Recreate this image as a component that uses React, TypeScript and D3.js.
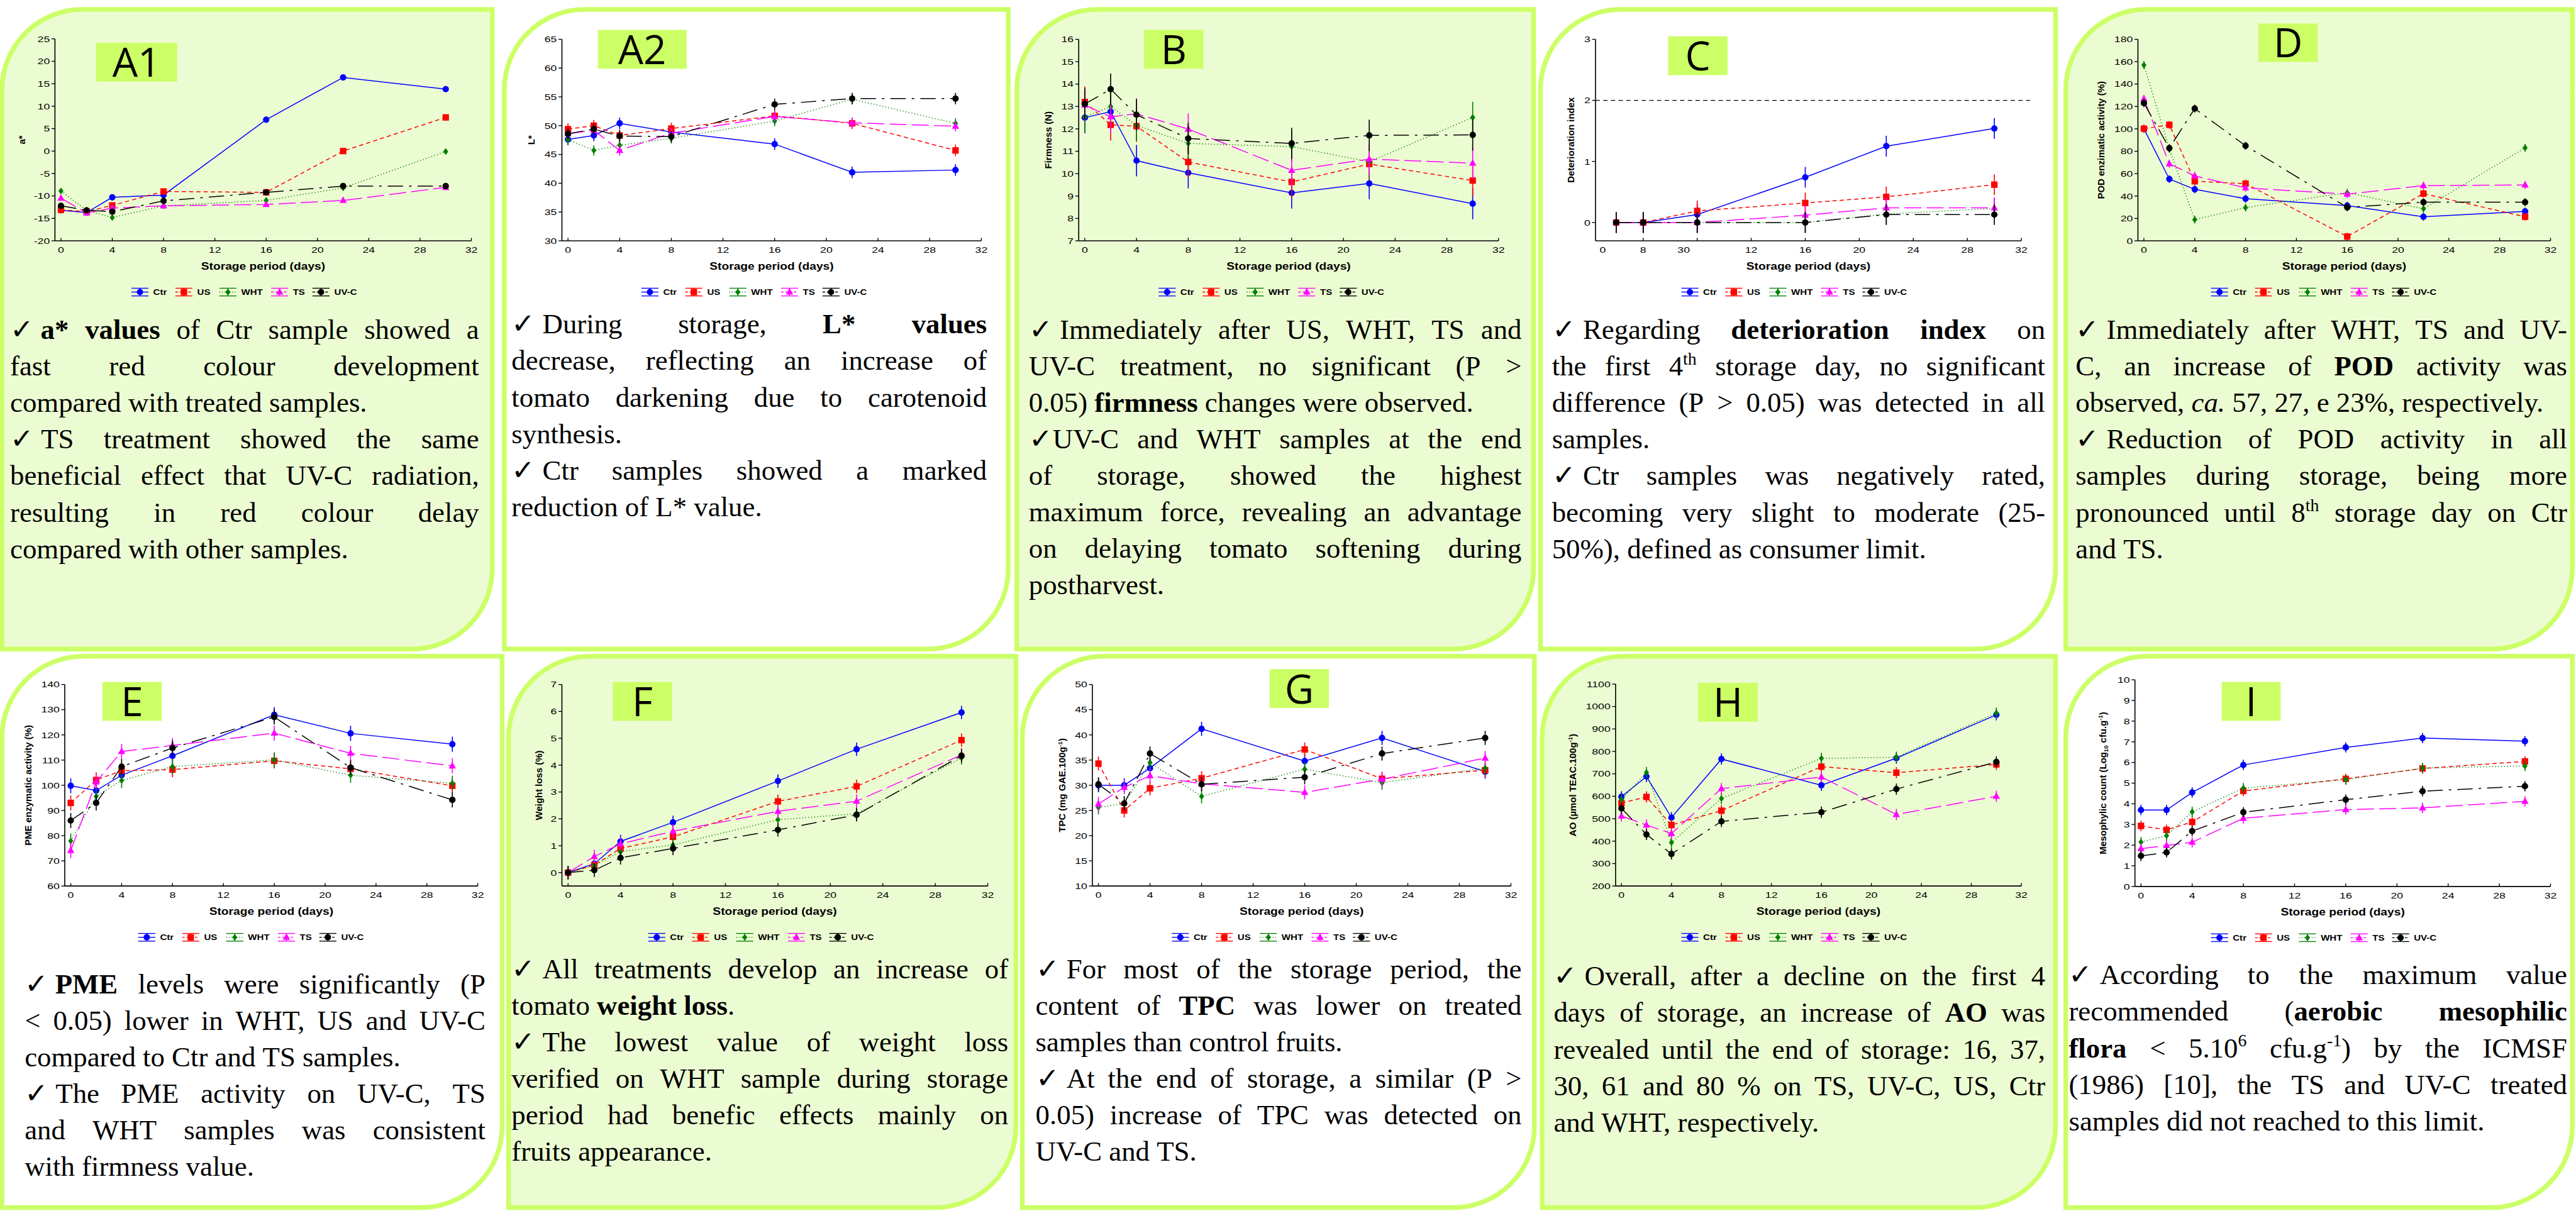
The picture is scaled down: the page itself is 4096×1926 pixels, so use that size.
import React from 'react';
import * as d3 from 'd3';

const VW = 6030, VH = 2836;

const SERIES = ['Ctr', 'US', 'WHT', 'TS', 'UV-C'];
const COLORS = ['#0000FF', '#FF0000', '#008000', '#FF00FF', '#000000'];
const DASHES = ['', '10,7', '2,5', '40,12', '36,14,6,14'];
const MARKERS = ['circle', 'square', 'diamond', 'triangle', 'circle'];

const DAYS = [0, 2, 4, 8, 16, 22, 30];
const DAYS_C = [2, 4, 8, 16, 22, 30];
const X_TICKS = [0, 4, 8, 12, 16, 20, 24, 28, 32];
const C_X_TICK_MARKS = [4, 8, 12, 16, 20, 24, 28, 32];
const C_X_TICK_POS = [1, 4, 7, 12, 16, 20, 24, 28, 32];
const C_X_TICK_LABELS = ['0', '8', '30', '12', '16', '20', '24', '28', '32'];

// A1 – a*
const A1_VALUES = [
  [-13.2, -13.7, -10.3, -9.8, 7.0, 16.4, 13.8],
  [-13.1, -13.5, -12.1, -9.0, -9.2, 0.0, 7.5],
  [-8.9, -13.2, -14.8, -12.2, -11.0, -8.2, -0.1],
  [-10.5, -13.8, -12.7, -12.2, -11.9, -11.0, -8.1],
  [-12.2, -13.2, -13.5, -11.1, -9.2, -7.8, -7.8],
];
const A1_ERR = [0.6, 0.5, 0.6, 0.5, 0.5];
const A1_Y_TICKS = [-20, -15, -10, -5, 0, 5, 10, 15, 20, 25];

// A2 – L*
const A2_VALUES = [
  [47.6, 48.3, 50.4, 48.9, 46.8, 41.9, 42.3],
  [49.4, 50.0, 48.3, 49.5, 51.7, 50.4, 45.7],
  [47.6, 45.7, 46.6, 47.8, 50.8, 54.6, 50.4],
  [48.6, 49.2, 45.7, 48.7, 51.6, 50.5, 49.9],
  [48.6, 49.4, 48.2, 48.1, 53.7, 54.7, 54.7],
];
const A2_ERR = [1.0, 1.0, 0.9, 0.9, 1.0];
const A2_Y_TICKS = [30, 35, 40, 45, 50, 55, 60, 65];

// B – Firmness
const B_VALUES = [
  [12.5, 12.77, 10.58, 10.04, 9.14, 9.56, 8.66],
  [13.2, 12.18, 12.12, 10.52, 9.63, 10.43, 9.69],
  [12.53, 13.0, 12.16, 11.35, 11.21, 10.53, 12.51],
  [13.06, 12.54, 12.67, 11.99, 10.15, 10.65, 10.47],
  [13.11, 13.77, 12.63, 11.57, 11.35, 11.71, 11.73],
];
const B_ERR = [0.7, 0.7, 0.7, 0.7, 0.7];
const B_Y_TICKS = [7, 8, 9, 10, 11, 12, 13, 14, 15, 16];

// C – Deterioration index
const C_VALUES = [
  [0, 0, 0.13, 0.74, 1.25, 1.54],
  [0, 0, 0.19, 0.32, 0.42, 0.62],
  [0, 0, 0, 0, 0.14, 0.23],
  [0, 0, 0, 0.12, 0.24, 0.24],
  [0, 0, 0, 0, 0.13, 0.13],
];
const C_ERR = [0.17, 0.17, 0.17, 0.17, 0.17];
const C_Y_TICKS = [0, 1, 2, 3];
const C_LIMIT = 2;

// D – POD
const D_VALUES = [
  [100, 55.2, 46.0, 37.6, 31.4, 21.5, 26.3],
  [100.2, 103.6, 53.2, 51.1, 3.8, 42.2, 21.5],
  [157, 82.1, 18.9, 29.7, 43.0, 28.6, 83.1],
  [126.8, 68.8, 58.0, 47.3, 41.7, 49.3, 49.9],
  [123, 82.8, 118.1, 84.9, 29.9, 34.5, 34.5],
];
const D_ERR = [3.5, 3.5, 3.5, 3.5, 3.5];
const D_Y_TICKS = [0, 20, 40, 60, 80, 100, 120, 140, 160, 180];

// E – PME
const E_VALUES = [
  [99.8, 97.9, 104.0, 111.7, 128.0, 120.6, 116.3],
  [93.0, 102.1, 105.8, 106.2, 109.7, 106.5, 99.8],
  [77.9, 95.6, 101.9, 107.4, 110.1, 104.0, 100.8],
  [74.1, 101.3, 113.4, 115.8, 120.7, 112.7, 107.7],
  [86.0, 93.0, 107.4, 114.8, 127.1, 107.0, 94.2],
];
const E_ERR = [3, 3, 3, 3, 3];
const E_Y_TICKS = [60, 70, 80, 90, 100, 110, 120, 130, 140];

// F – Weight loss
const F_VALUES = [
  [0, 0.33, 1.16, 1.87, 3.41, 4.59, 5.96],
  [0, 0.28, 0.90, 1.33, 2.65, 3.21, 4.93],
  [0, 0.26, 0.78, 1.03, 1.97, 2.19, 4.27],
  [0, 0.60, 1.07, 1.54, 2.28, 2.66, 4.38],
  [0, 0.09, 0.55, 0.90, 1.59, 2.15, 4.35],
];
const F_ERR = [0.25, 0.25, 0.25, 0.25, 0.25];
const F_Y_TICKS = [0, 1, 2, 3, 4, 5, 6, 7];

// G – TPC
const G_VALUES = [
  [30.0, 30.0, 33.4, 41.2, 34.8, 39.4, 32.7],
  [34.3, 25.0, 29.4, 31.4, 37.1, 31.3, 33.0],
  [25.6, 26.4, 34.5, 27.8, 33.2, 30.5, 33.4],
  [26.3, 29.6, 31.9, 30.3, 28.6, 31.2, 35.4],
  [30.2, 26.4, 36.3, 30.2, 31.6, 36.3, 39.4],
];
const G_ERR = [1.4, 1.4, 1.4, 1.4, 1.4];
const G_Y_TICKS = [10, 15, 20, 25, 30, 35, 40, 45, 50];

// H – AO
const H_VALUES = [
  [598, 688, 505, 766, 649, 770, 963],
  [570, 597, 472, 536, 732, 705, 742],
  [585, 706, 394, 590, 769, 774, 971],
  [512, 472, 434, 634, 686, 519, 600],
  [546, 430, 343, 488, 529, 632, 753],
];
const H_ERR = [25, 25, 25, 25, 25];
const H_Y_TICKS = [200, 300, 400, 500, 600, 700, 800, 900, 1000, 1100];

// I – Mesophilic count
const I_VALUES = [
  [3.70, 3.70, 4.55, 5.88, 6.73, 7.18, 7.03],
  [2.93, 2.74, 3.12, 4.62, 5.21, 5.71, 6.05],
  [2.15, 2.46, 3.61, 4.76, 5.17, 5.73, 5.83],
  [1.83, 1.98, 2.14, 3.30, 3.72, 3.80, 4.12],
  [1.48, 1.65, 2.68, 3.59, 4.20, 4.61, 4.85],
];
const I_ERR = [0.25, 0.25, 0.25, 0.25, 0.25];
const I_Y_TICKS = [0, 1, 2, 3, 4, 5, 6, 7, 8, 9, 10];

const X_TITLE = 'Storage period (days)';

// Paragraph texts (~bold~, _italic_, ^sup^)
const TEXT_A1 = [
  ['✓  ~a* values~ of Ctr sample showed a', 'fast red colour development', 'compared with treated samples.'],
  ['✓ TS treatment showed the same', 'beneficial effect that UV-C radiation,', 'resulting in red colour delay', 'compared with other samples.'],
];
const TEXT_A2 = [
  ['✓ During storage, ~L* values~', 'decrease, reflecting an increase of', 'tomato darkening due to carotenoid', 'synthesis.'],
  ['✓ Ctr samples showed a marked', 'reduction of L* value.'],
];
const TEXT_B = [
  ['✓ Immediately after US, WHT, TS and', 'UV-C treatment, no significant (P >', '0.05) ~firmness~ changes were observed.'],
  ['✓UV-C and WHT samples at the end', 'of storage, showed the highest', 'maximum force, revealing an advantage', 'on delaying tomato softening during', 'postharvest.'],
];
const TEXT_C = [
  ['✓ Regarding ~deterioration index~ on', 'the first 4^th^ storage day, no significant', 'difference (P > 0.05) was detected in all', 'samples.'],
  ['✓ Ctr samples was negatively rated,', 'becoming very slight to moderate (25-', '50%), defined as consumer limit.'],
];
const TEXT_D = [
  ['✓ Immediately after WHT, TS and UV-', 'C, an increase of ~POD~ activity was', 'observed, _ca._ 57, 27, e 23%, respectively.'],
  ['✓ Reduction of POD activity in all', 'samples during storage, being more', 'pronounced until 8^th^ storage day on Ctr', 'and TS.'],
];
const TEXT_E = [
  ['✓ ~PME~ levels were significantly (P', '< 0.05) lower in WHT, US and UV-C', 'compared to Ctr and TS samples.'],
  ['✓ The PME activity on UV-C, TS', 'and WHT samples was consistent', 'with firmness value.'],
];
const TEXT_F = [
  ['✓ All treatments develop an increase of', 'tomato ~weight loss~.'],
  ['✓ The lowest value of weight loss', 'verified on WHT sample during storage', 'period had benefic effects mainly on', 'fruits appearance.'],
];
const TEXT_G = [
  ['✓ For most of the storage period, the', 'content of ~TPC~ was lower on treated', 'samples than control fruits.'],
  ['✓ At the end of storage, a similar (P >', '0.05) increase of TPC was detected on', 'UV-C and TS.'],
];
const TEXT_H = [
  ['✓ Overall, after a decline on the first 4', 'days of storage, an increase of ~AO~ was', 'revealed until the end of storage: 16, 37,', '30, 61 and 80 % on TS, UV-C, US, Ctr', 'and WHT, respectively.'],
];
const TEXT_I = [
  ['✓ According to the maximum value', 'recommended (~aerobic mesophilic~', '~flora~ < 5.10^6^ cfu.g^-1^) by the ICMSF', '(1986) [10], the TS and UV-C treated', 'samples did not reached to this limit.'],
];

type Run = { t: string; b?: boolean; i?: boolean; s?: boolean; sub?: boolean };

const TOP = { top: 92, bottom: 564 };
const BOT = { top: 1603, bottom: 2075 };

const CHARTS = [
  { id: 'A1', values: A1_VALUES, err: A1_ERR, days: DAYS, yDomain: [-20, 25], yTicks: A1_Y_TICKS, left: 128, right: 1103, top: 91, bottom: 564, xMin: -0.47, yTitleX: 50, yTitle: [{ t: 'a*' }], legendX: 307, label: [224, 100, 414, 191], text: TEXT_A1, tx: [23, 1121], tb: 794 },
  { id: 'A2', values: A2_VALUES, err: A2_ERR, days: DAYS, yDomain: [30, 65], yTicks: A2_Y_TICKS, left: 1315, right: 2297, ...TOP, xMin: -0.47, yTitleX: 1243, yTitle: [{ t: 'L*' }], legendX: 1501, label: [1399, 70, 1607, 161], text: TEXT_A2, tx: [1197, 2310], tb: 781 },
  { id: 'B', values: B_VALUES, err: B_ERR, days: DAYS, yDomain: [7, 16], yTicks: B_Y_TICKS, left: 2525, right: 3508, ...TOP, xMin: -0.47, yTitleX: 2454, yTitle: [{ t: 'Firmness (N)' }], legendX: 2712, label: [2678, 70, 2817, 161], text: TEXT_B, tx: [2408, 3562], tb: 793 },
  { id: 'C', values: C_VALUES, err: C_ERR, days: DAYS_C, yDomain: [-0.3, 3], yTicks: C_Y_TICKS, left: 3735, right: 4732, ...TOP, xMin: 0.47, yTitleX: 3677, yTitle: [{ t: 'Deterioration index' }], legendX: 3936, label: [3905, 85, 4044, 176], text: TEXT_C, tx: [3633, 4788], tb: 794, limit: C_LIMIT },
  { id: 'D', values: D_VALUES, err: D_ERR, days: DAYS, yDomain: [0, 180], yTicks: D_Y_TICKS, left: 5005, right: 5971, ...TOP, xMin: -0.47, yTitleX: 4919, yTitle: [{ t: 'POD enzimatic activity (%)' }], legendX: 5176, label: [5287, 55, 5426, 145], text: TEXT_D, tx: [4859, 6010], tb: 794 },
  { id: 'E', values: E_VALUES, err: E_ERR, days: DAYS, yDomain: [60, 140], yTicks: E_Y_TICKS, left: 151, right: 1118, ...BOT, xMin: -0.47, yTitleX: 65, yTitle: [{ t: 'PME enzymatic activity (%)' }], legendX: 323, label: [239, 1597, 378, 1688], text: TEXT_E, tx: [57, 1136], tb: 2326 },
  { id: 'F', values: F_VALUES, err: F_ERR, days: DAYS, yDomain: [-0.5, 7], yTicks: F_Y_TICKS, left: 1315, right: 2312, ...BOT, xMin: -0.47, yTitleX: 1260, yTitle: [{ t: 'Weight loss (%)' }], legendX: 1517, label: [1434, 1597, 1573, 1688], text: TEXT_F, tx: [1197, 2360], tb: 2291 },
  { id: 'G', values: G_VALUES, err: G_ERR, days: DAYS, yDomain: [10, 50], yTicks: G_Y_TICKS, left: 2557, right: 3537, ...BOT, xMin: -0.47, yTitleX: 2486, yTitle: [{ t: 'TPC (mg GAE.100g' }, { t: '-1', s: true }, { t: ')' }], legendX: 2743, label: [2972, 1567, 3111, 1658], text: TEXT_G, tx: [2424, 3562], tb: 2291 },
  { id: 'H', values: H_VALUES, err: H_ERR, days: DAYS, yDomain: [200, 1100], yTicks: H_Y_TICKS, left: 3782, right: 4732, top: 1602, bottom: 2075, xMin: -0.47, yTitleX: 3681, yTitle: [{ t: 'AO (µmol TEAC.100g' }, { t: '-1', s: true }, { t: ')' }], legendX: 3936, label: [3975, 1599, 4115, 1690], text: TEXT_H, tx: [3637, 4788], tb: 2308 },
  { id: 'I', values: I_VALUES, err: I_ERR, days: DAYS, yDomain: [0, 10], yTicks: I_Y_TICKS, left: 4998, right: 5971, top: 1592, bottom: 2076, xMin: -0.47, yTitleX: 4922, yTitle: [{ t: 'Mesophylic count (Log' }, { t: '10', sub: true }, { t: ' cfu.g' }, { t: '-1', s: true }, { t: ')' }], legendX: 5176, label: [5201, 1597, 5339, 1688], text: TEXT_I, tx: [4843, 6010], tb: 2305 },
];

const PANELS_TOP = [[4, 1152], [1180, 2360], [2380, 3590], [3606, 4812], [4836, 6022]];
const PANELS_BOT = [[4, 1175], [1190, 2378], [2393, 3592], [3610, 4812], [4836, 6022]];

const SANS = '"Liberation Sans", Arial, sans-serif';
const SERIF = '"Liberation Serif", "DejaVu Serif", serif';
const TEXT_SIZE = 66;
const LINE_H = 85.5;

let ctxCache: CanvasRenderingContext2D | null = null;
function ctx() {
  if (!ctxCache) ctxCache = document.createElement('canvas').getContext('2d');
  return ctxCache!;
}
function fontStr(r: Run) {
  const sz = r.s ? TEXT_SIZE * 0.62 : TEXT_SIZE;
  return `${r.i ? 'italic ' : ''}${r.b ? 'bold ' : ''}${sz}px ${SERIF}`;
}
function measure(r: Run) {
  const c = ctx();
  c.font = fontStr(r);
  return c.measureText(r.t).width;
}

function parseLine(raw: string): Run[][] {
  const line = raw.replace(/^✓ +/, '✓\u00a0');
  const words: Run[][] = [];
  let cur: Run[] = [];
  let b = false, it = false, s = false;
  let buf = '';
  const flush = () => {
    if (buf) cur.push({ t: buf, b, i: it, s });
    buf = '';
  };
  for (const ch of line) {
    if (ch === '~') { flush(); b = !b; }
    else if (ch === '_') { flush(); it = !it; }
    else if (ch === '^') { flush(); s = !s; }
    else if (ch === ' ') { flush(); if (cur.length) words.push(cur); cur = []; }
    else buf += ch;
  }
  flush();
  if (cur.length) words.push(cur);
  return words;
}

function Paragraphs({ paras, x1, x2, b0 }: { paras: string[][]; x1: number; x2: number; b0: number }) {
  const W = x2 - x1;
  const spaceW = measure({ t: ' ' });
  const out: React.ReactNode[] = [];
  let k = 0;
  paras.forEach((lines, pi) => {
    lines.forEach((line, li) => {
      const last = li === lines.length - 1;
      const words = parseLine(line);
      const widths = words.map(w => w.reduce((a, r) => a + measure(r), 0));
      const sum = widths.reduce((a, v) => a + v, 0);
      const natural = sum + spaceW * (words.length - 1);
      let gap = spaceW, scale = 1;
      if (natural > W) scale = W / natural;
      else if (!last && words.length > 1) gap = (W - sum) / (words.length - 1);
      const y = b0 + k * LINE_H;
      let x = x1;
      const els: React.ReactNode[] = [];
      words.forEach((w, wi) => {
        let rx = x;
        w.forEach((r, ri) => {
          els.push(
            <text key={`${wi}-${ri}`} x={rx} y={r.s ? y - TEXT_SIZE * 0.38 : y} fontFamily={SERIF}
              fontSize={r.s ? TEXT_SIZE * 0.62 : TEXT_SIZE} fontWeight={r.b ? 'bold' : 'normal'}
              fontStyle={r.i ? 'italic' : 'normal'} fill="#000" style={{ whiteSpace: 'pre' }}>{r.t}</text>
          );
          rx += measure(r);
        });
        x += widths[wi] + gap;
      });
      out.push(
        <g key={`${pi}-${li}`} transform={scale !== 1 ? `translate(${x1},0) scale(${scale},1) translate(${-x1},0)` : undefined}>{els}</g>
      );
      k++;
    });
  });
  return <g>{out}</g>;
}

function SText({ x, y, sx = 1, anchor = 'middle', size, bold = false, children }: any) {
  return (
    <text transform={`translate(${x},${y}) scale(${sx},1)`} textAnchor={anchor} fontSize={size}
      fontWeight={bold ? 'bold' : 'normal'} fontFamily={SANS} fill="#000">{children}</text>
  );
}

function Marker({ type, cx, cy, color }: { type: string; cx: number; cy: number; color: string }) {
  if (type === 'circle') return <circle cx={cx} cy={cy} r={7.5} fill={color} />;
  if (type === 'square') return <rect x={cx - 7.5} y={cy - 7.5} width={15} height={15} fill={color} />;
  if (type === 'diamond') return <path d={`M${cx},${cy - 8}L${cx + 6},${cy}L${cx},${cy + 8}L${cx - 6},${cy}Z`} fill={color} />;
  return <path d={`M${cx},${cy - 9.5}L${cx + 8.5},${cy + 6}L${cx - 8.5},${cy + 6}Z`} fill={color} />;
}

function Chart({ c }: { c: any }) {
  const x = d3.scaleLinear().domain([c.xMin, 32]).range([c.left, c.right]);
  const y = d3.scaleLinear().domain(c.yDomain).range([c.bottom, c.top]);
  const line = d3.line<[number, number]>().x(d => x(d[0])).y(d => y(d[1]));
  const isC = c.id === 'C';
  const tickMarks = isC ? C_X_TICK_MARKS : X_TICKS;
  const labelPos = isC ? C_X_TICK_POS : X_TICKS;
  const labelTxt = isC ? C_X_TICK_LABELS : X_TICKS.map(String);
  const cy = (c.top + c.bottom) / 2;
  const legY = c.bottom + 120;
  const legOffsets = [0, 103, 206, 327, 424];
  const [lx1, ly1, lx2, ly2] = c.label;
  return (
    <g>
      <rect x={lx1} y={ly1} width={lx2 - lx1} height={ly2 - ly1} fill="#CCFF66" />
      <text x={(lx1 + lx2) / 2} y={ly2 - 11} textAnchor="middle" fontSize={94} fontFamily='"Open Sans", "Noto Sans", sans-serif' fill="#000">{c.id}</text>

      {c.limit !== undefined && (
        <line x1={c.left} x2={c.right + 22} y1={y(c.limit)} y2={y(c.limit)} stroke="#000" strokeWidth={2} strokeDasharray="10,8" />
      )}

      <line x1={c.left} x2={c.left} y1={c.top} y2={c.bottom} stroke="#000" strokeWidth={2.4} />
      <line x1={c.left} x2={c.right} y1={c.bottom} y2={c.bottom} stroke="#000" strokeWidth={2.4} />
      {c.yTicks.map((v: number) => (
        <g key={'y' + v}>
          <line x1={c.left - 8} x2={c.left} y1={y(v)} y2={y(v)} stroke="#000" strokeWidth={2} />
          <SText x={c.left - 12} y={y(v) + 7} sx={1.3} anchor="end" size={20}>{v}</SText>
        </g>
      ))}
      {tickMarks.map((d: number) => (
        <line key={'xt' + d} x1={x(d)} x2={x(d)} y1={c.bottom} y2={c.bottom - 7} stroke="#000" strokeWidth={2} />
      ))}
      {labelPos.map((d: number, i: number) => (
        <SText key={'xl' + i} x={x(d)} y={c.bottom + 28} sx={1.3} size={20}>{labelTxt[i]}</SText>
      ))}
      <SText x={(c.left + c.right) / 2} y={c.bottom + 68} sx={1.23} size={23} bold>{X_TITLE}</SText>
      <text transform={`translate(${c.yTitleX + 8},${cy}) rotate(-90)`} textAnchor="middle" fontSize={22}
        fontWeight="bold" fontFamily={SANS} fill="#000">
        {c.yTitle.map((r: Run, i: number) => {
          const prev = i > 0 ? c.yTitle[i - 1] : null;
          const reset = prev && (prev.s ? 8 : prev.sub ? -5 : 0);
          const dy = (r.s ? -8 : r.sub ? 5 : 0) + (reset || 0);
          return <tspan key={i} dy={dy} fontSize={r.s || r.sub ? 14 : 22}>{r.t}</tspan>;
        })}
      </text>

      {c.values.map((vals: number[], si: number) => {
        const pts: [number, number][] = vals.map((v, i) => [c.days[i], v]);
        const e = c.err[si];
        return (
          <g key={'s' + si}>
            <path d={line(pts) || ''} fill="none" stroke={COLORS[si]} strokeWidth={2.2}
              strokeDasharray={DASHES[si] || undefined} />
            {pts.map((p, i) => (
              <line key={'e' + i} x1={x(p[0])} x2={x(p[0])} y1={y(p[1] - e)} y2={y(p[1] + e)} stroke={COLORS[si]} strokeWidth={2.4} />
            ))}
            {pts.map((p, i) => (
              <Marker key={'m' + i} type={MARKERS[si]} cx={x(p[0])} cy={y(p[1])} color={COLORS[si]} />
            ))}
          </g>
        );
      })}

      {SERIES.map((s, si) => {
        const sx = c.legendX + legOffsets[si];
        return (
          <g key={'l' + si}>
            <line x1={sx} x2={sx + 40} y1={legY - 9} y2={legY - 9} stroke={COLORS[si]} strokeWidth={2} />
            <line x1={sx} x2={sx + 40} y1={legY + 9} y2={legY + 9} stroke={COLORS[si]} strokeWidth={2} />
            <line x1={sx} x2={sx + 40} y1={legY} y2={legY} stroke={COLORS[si]} strokeWidth={2} strokeDasharray={DASHES[si] ? (si === 2 ? '2,4' : '6,4') : undefined} />
            <line x1={sx + 20} x2={sx + 20} y1={legY - 9} y2={legY + 9} stroke={COLORS[si]} strokeWidth={2} />
            <Marker type={MARKERS[si]} cx={sx + 20} cy={legY} color={COLORS[si]} />
            <SText x={sx + 51} y={legY + 7} sx={1.17} anchor="start" size={19} bold>{s}</SText>
          </g>
        );
      })}

      <Paragraphs paras={c.text} x1={c.tx[0]} x2={c.tx[1]} b0={c.tb} />
    </g>
  );
}

function panelPath(x1: number, y1: number, x2: number, y2: number, r: number) {
  return `M${x1},${y1 + r} A${r},${r} 0 0 1 ${x1 + r},${y1} L${x2},${y1} L${x2},${y2 - r} A${r},${r} 0 0 1 ${x2 - r},${y2} L${x1},${y2} Z`;
}

export default function App() {
  const fills = [true, false, true, false, true];
  return (
    <svg width={4096} height={1926} viewBox={`0 0 ${VW} ${VH}`} style={{ position: 'absolute', left: 0, top: 0, background: '#fff' }}>
      <rect x={0} y={0} width={VW} height={VH} fill="#fff" />
      {PANELS_TOP.map(([a, b], i) => (
        <path key={'pt' + i} d={panelPath(a, 22, b, 1520, 188)} fill={fills[i] ? '#ECFCD2' : '#FFFFFF'} stroke="#CCFF66" strokeWidth={11} />
      ))}
      {PANELS_BOT.map(([a, b], i) => (
        <path key={'pb' + i} d={panelPath(a, 1537, b, 2828, 190)} fill={!fills[i] ? '#ECFCD2' : '#FFFFFF'} stroke="#CCFF66" strokeWidth={11} />
      ))}
      {CHARTS.map(c => <Chart key={c.id} c={c} />)}
    </svg>
  );
}
